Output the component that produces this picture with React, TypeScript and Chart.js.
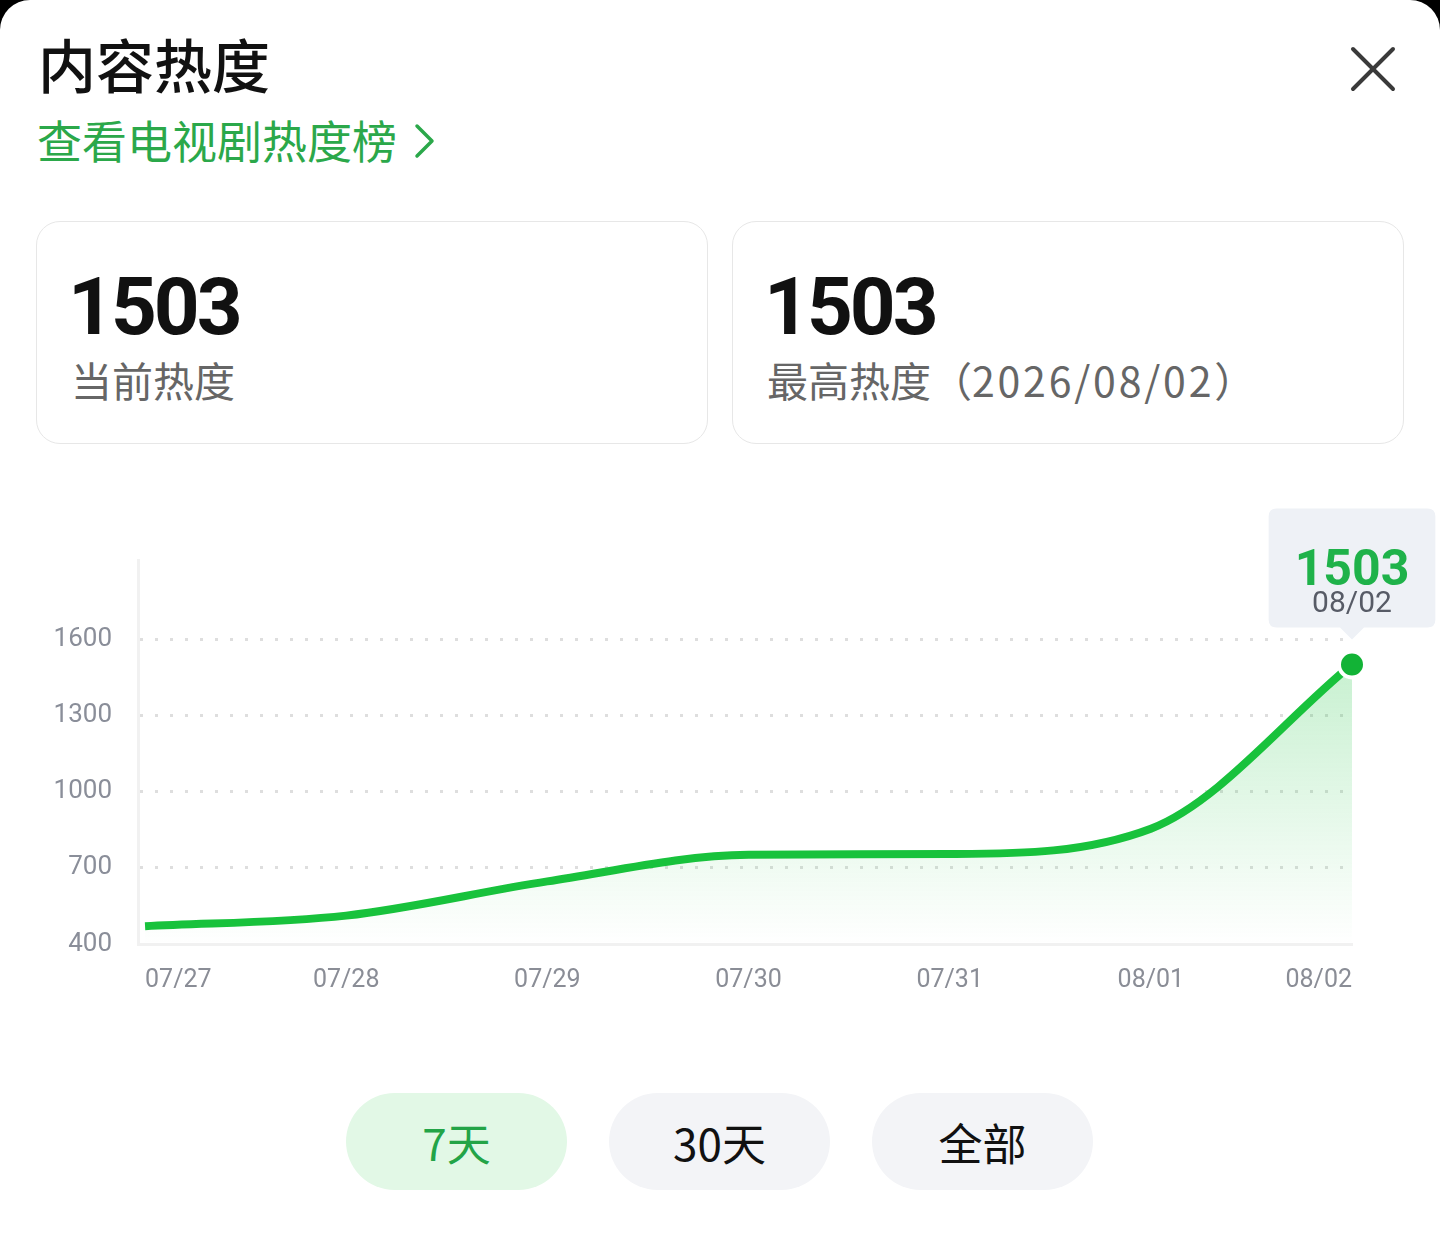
import React, { useEffect, useRef } from 'react';
import { Chart, registerables } from 'chart.js';

Chart.register(...registerables);

const dateLabels = ['07/27', '07/28', '07/29', '07/30', '07/31', '08/01', '08/02'];
const heatValues = [470, 512, 647, 752, 755, 855, 1503];
const yTickValues = [400, 700, 1000, 1300, 1600];
const yMin = 400;
const yMax = 1915;
const yStep = 300;

const currentHeat = 1503;
const peakHeat = 1503;
const peakDate = '2026/08/02';
const rangeButtons = ['7天', '30天', '全部'];

const CJK = '"Noto Sans CJK SC", "Noto Sans", sans-serif';
const NUM = 'Roboto, "Noto Sans", sans-serif';

function HeatChart() {
  const ref = useRef<HTMLCanvasElement | null>(null);
  useEffect(() => {
    const canvas = ref.current;
    if (!canvas) return;
    const last = heatValues.length - 1;
    const green = '#18c23c';
    const chart = new Chart(canvas, {
      type: 'line',
      data: {
        datasets: [
          {
            data: heatValues.map((v, i) => ({ x: i, y: v })),
            clip: false,
            borderColor: green,
            borderWidth: 8,
            borderCapStyle: 'butt',
            cubicInterpolationMode: 'monotone',
            fill: 'start',
            backgroundColor: (ctx: any) => {
              const c = ctx.chart;
              const area = c.chartArea;
              if (!area) return 'rgba(24,194,60,0.15)';
              const top = c.scales.y.getPixelForValue(Math.max(...heatValues));
              const g = c.ctx.createLinearGradient(0, top, 0, area.bottom);
              g.addColorStop(0, 'rgba(24,194,60,0.24)');
              g.addColorStop(1, 'rgba(24,194,60,0)');
              return g;
            },
            pointRadius: (ctx: any) => (ctx.dataIndex === last ? 13 : 0),
            pointHoverRadius: (ctx: any) => (ctx.dataIndex === last ? 13 : 0),
            pointBackgroundColor: '#12b336',
            pointHoverBackgroundColor: '#12b336',
            pointBorderColor: '#ffffff',
            pointHoverBorderColor: '#ffffff',
            pointBorderWidth: 4,
            pointHoverBorderWidth: 4,
          },
        ],
      },
      options: {
        animation: false,
        responsive: false,
        events: [],
        layout: { padding: { top: 80, right: 88, left: 0, bottom: 0 } },
        scales: {
          x: {
            type: 'linear',
            min: -0.035,
            max: dateLabels.length - 1,
            afterBuildTicks: (scale: any) => {
              scale.ticks = dateLabels.map((_, i) => ({ value: i }));
            },
            afterFit: (scale: any) => {
              scale.height = 96;
            },
            grid: { display: false, drawTicks: false },
            border: { display: true, color: '#f1f1f1', width: 3 },
            ticks: {
              align: 'inner',
              padding: 22,
              color: '#8a8d96',
              font: { family: NUM, size: 25 },
              callback: (v: any) => dateLabels[v] ?? '',
              maxRotation: 0,
              autoSkip: false,
            },
          },
          y: {
            min: yMin,
            max: yMax,
            afterBuildTicks: (scale: any) => {
              scale.ticks = yTickValues.map((v) => ({ value: v }));
            },
            afterFit: (scale: any) => {
              scale.width = 138;
            },
            grid: {
              drawTicks: false,
              lineWidth: 3,
              color: (ctx: any) => {
                const v = ctx.tick && ctx.tick.value;
                return v === yMin ? 'rgba(0,0,0,0)' : '#dedede';
              },
            },
            border: { display: true, color: '#f1f1f1', width: 3, dash: [3, 12] },
            ticks: {
              stepSize: yStep,
              padding: 26,
              color: '#8a8e99',
              font: { family: NUM, size: 26 },
              callback: (v: any) => String(v),
            },
          },
        },
        plugins: {
          legend: { display: false },
          tooltip: {
            enabled: true,
            displayColors: false,
            backgroundColor: '#eef1f6',
            titleColor: '#1fb24a',
            titleFont: { family: NUM, size: 50, weight: 'bold', lineHeight: 0.68 },
            titleAlign: 'center',
            titleMarginBottom: 0,
            bodyColor: '#575b66',
            bodyFont: { family: NUM, size: 30, lineHeight: 1 },
            bodyAlign: 'center',
            padding: { top: 47, bottom: 8, left: 26, right: 26 },
            cornerRadius: 8,
            caretSize: 12,
            caretPadding: 25,
            xAlign: 'center',
            yAlign: 'bottom',
            callbacks: {
              title: (items: any[]) => String(heatValues[items[0].dataIndex]),
              label: (item: any) => dateLabels[item.dataIndex],
            },
          },
        },
      } as any,
    });
    const active = [{ datasetIndex: 0, index: last }];
    chart.setActiveElements(active);
    chart.tooltip?.setActiveElements(active, { x: 0, y: 0 });
    chart.update();
    return () => chart.destroy();
  }, []);
  return (
    <canvas
      ref={ref}
      width={1440}
      height={560}
      style={{ position: 'absolute', left: 0, top: 480, width: 1440, height: 560 }}
    />
  );
}

export default function App() {
  const cardStyle: React.CSSProperties = {
    position: 'absolute',
    top: 221,
    width: 672,
    height: 223,
    border: '1.5px solid #e7e7e7',
    borderRadius: 24,
    boxSizing: 'border-box',
    background: '#fff',
  };
  const bigNum: React.CSSProperties = {
    position: 'absolute',
    left: 31,
    top: 45,
    fontFamily: NUM,
    fontWeight: 700,
    fontSize: 80,
    lineHeight: '80px',
    letterSpacing: -3,
    color: '#111',
    whiteSpace: 'nowrap',
  };
  const label: React.CSSProperties = {
    position: 'absolute',
    left: 34,
    top: 137,
    fontFamily: CJK,
    fontSize: 41,
    lineHeight: '41px',
    color: '#666',
    whiteSpace: 'nowrap',
  };
  const pillLefts = [346, 609, 872];
  return (
    <div style={{ position: 'absolute', left: 0, top: 0, width: 1440, height: 1240, background: '#000', overflow: 'hidden' }}>
      <div style={{ position: 'absolute', left: 0, top: 0, width: 1440, height: 1240, background: '#fff', borderRadius: '30px 30px 0 0' }}>
        <div style={{ position: 'absolute', left: 38, top: 34, fontFamily: CJK, fontSize: 58, lineHeight: '58px', fontWeight: 500, color: '#111', whiteSpace: 'nowrap' }}>
          内容热度
        </div>
        <div style={{ position: 'absolute', left: 37, top: 117, fontFamily: CJK, fontSize: 45, lineHeight: '45px', color: '#2ba84a', whiteSpace: 'nowrap' }}>
          查看电视剧热度榜
        </div>
        <svg style={{ position: 'absolute', left: 0, top: 0 }} width={1440} height={200}>
          <polyline points="417,126 432,141 417,156" fill="none" stroke="#2ba84a" strokeWidth={3.5} strokeLinecap="round" strokeLinejoin="round" />
          <line x1={1353} y1={49} x2={1393} y2={89} stroke="#3a3a3a" strokeWidth={4} strokeLinecap="round" />
          <line x1={1393} y1={49} x2={1353} y2={89} stroke="#3a3a3a" strokeWidth={4} strokeLinecap="round" />
        </svg>
        <div style={{ ...cardStyle, left: 36 }}>
          <div style={bigNum}>{currentHeat}</div>
          <div style={label}>当前热度</div>
        </div>
        <div style={{ ...cardStyle, left: 732 }}>
          <div style={bigNum}>{peakHeat}</div>
          <div style={label}>
            最高热度（<span style={{ letterSpacing: 2.8 }}>{peakDate}</span>）
          </div>
        </div>
        <HeatChart />
        {rangeButtons.map((b, i) => (
          <div
            key={b}
            style={{
              position: 'absolute',
              left: pillLefts[i],
              top: 1093,
              width: 221,
              height: 97,
              borderRadius: 48.5,
              background: i === 0 ? '#e2f8e6' : '#f3f4f7',
              color: i === 0 ? '#23a447' : '#111',
              fontFamily: CJK,
              fontSize: 44,
              display: 'flex',
              alignItems: 'center',
              justifyContent: 'center',
            }}
          >
            {b}
          </div>
        ))}
      </div>
    </div>
  );
}
